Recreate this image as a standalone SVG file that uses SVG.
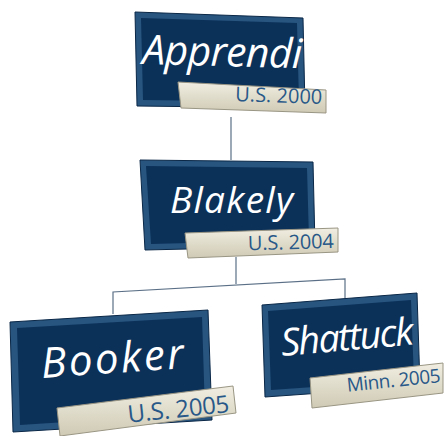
<svg xmlns="http://www.w3.org/2000/svg" width="445" height="436" viewBox="0 0 445 436">
<style>
.box{fill:#27557f;stroke:#0a2747;stroke-width:1}
.inner{fill:#0c3159}
.lbl{fill:url(#lg);stroke:#9a9684;stroke-width:1}
.name{font-family:"Open Sans","Liberation Sans",sans-serif;font-style:italic;fill:#ffffff}
.yr{font-family:"Open Sans","Liberation Sans",sans-serif;fill:#285888}
.conn{fill:none;stroke:#5a6f86;stroke-width:1.2}
</style>
<defs>
<linearGradient id="lg" x1="0" y1="0" x2="0" y2="1">
<stop offset="0" stop-color="#f1eee2"/>
<stop offset="1" stop-color="#cfcab4"/>
</linearGradient>
</defs>
<rect width="445" height="436" fill="#ffffff"/>
<g id="connectors">
<path class="conn" d="M231 117 V160"/>
<path class="conn" d="M236 257 V284"/>
<path class="conn" d="M113 314 V292 L345 279 V298"/>
</g>
<g id="apprendi">
<polygon class="box" points="135,12 303,18 305,108 137,106"/>
<polygon class="inner" points="141,18 297,23 299,102 143,100"/>
<text class="name" x="142" y="64" font-size="41" transform="rotate(1.5 142 64)" textLength="160">Apprendi</text>
<polygon class="lbl" points="178,82 326,90 326,113 181,108"/>
<text class="yr" x="322" y="104" font-size="20" text-anchor="end" textLength="87" transform="rotate(2 322 104)">U.S. 2000</text>
</g>
<g id="blakely">
<polygon class="box" points="140,160 313,162 315,246 145,250"/>
<polygon class="inner" points="146,166 307,168 309,240 151,244"/>
<text class="name" x="170" y="213" font-size="37" textLength="123">Blakely</text>
<polygon class="lbl" points="185,233 338,228 338,252 188,258"/>
<text class="yr" x="334" y="248" font-size="20" text-anchor="end" textLength="86" transform="rotate(-1.5 334 248)">U.S. 2004</text>
</g>
<g id="booker">
<polygon class="box" points="10,322 208,310 212,420 13,432"/>
<polygon class="inner" points="17,328 202,317 205,413 20,425"/>
<text class="name" x="42" y="378" font-size="42" transform="rotate(-4 42 378)" textLength="143">Booker</text>
<polygon class="lbl" points="57,408 233,386 236,413 60,436"/>
<text class="yr" x="230" y="412" font-size="24" text-anchor="end" textLength="102" transform="rotate(-6 230 412)">U.S. 2005</text>
</g>
<g id="shattuck">
<polygon class="box" points="262,305 417,293 420,386 265,397"/>
<polygon class="inner" points="268,311 411,300 414,380 271,390"/>
<text class="name" x="282" y="356" font-size="38" transform="rotate(-5 282 356)" textLength="133">Shattuck</text>
<polygon class="lbl" points="310,378 443,363 443,393 312,408"/>
<text class="yr" x="441" y="382" font-size="19" text-anchor="end" textLength="94" transform="rotate(-6 441 382)">Minn. 2005</text>
</g>
</svg>
